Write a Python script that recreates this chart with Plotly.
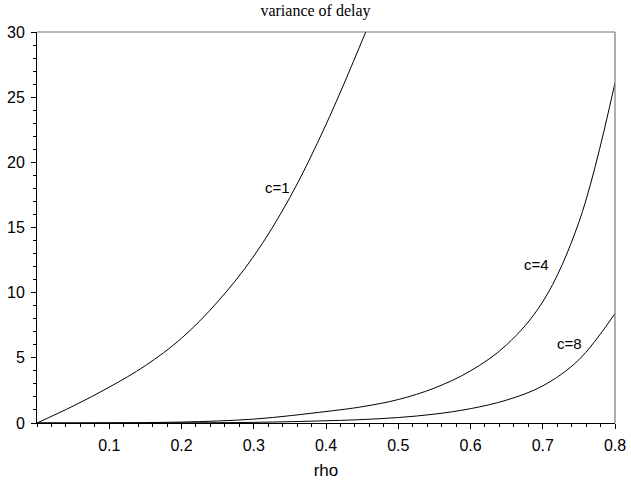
import plotly.graph_objects as go

# data
rho_c1 = [0.0, 0.05, 0.1, 0.15, 0.2, 0.25, 0.3, 0.35, 0.4, 0.455]
var_c1 = [0.0, 1.3, 2.75, 4.4, 6.5, 9.3, 12.8, 17.3, 22.9, 30.0]

rho_c4 = [0.0, 0.1, 0.2, 0.3, 0.4, 0.45, 0.5, 0.55, 0.6, 0.65, 0.7, 0.75, 0.8]
var_c4 = [0.0, 0.01, 0.07, 0.3, 0.88, 1.25, 1.8, 2.68, 4.0, 6.0, 9.3, 15.4, 26.1]

rho_c8 = [0.0, 0.2, 0.3, 0.4, 0.45, 0.5, 0.55, 0.6, 0.65, 0.7, 0.75, 0.8]
var_c8 = [0.0, 0.01, 0.05, 0.17, 0.265, 0.42, 0.68, 1.1, 1.76, 2.85, 4.85, 8.4]

labels = ["c=1", "c=4", "c=8"]
label_x = [0.333, 0.692, 0.737]
label_y = [18.1, 12.15, 6.1]

x_ticks = [0.1, 0.2, 0.3, 0.4, 0.5, 0.6, 0.7, 0.8]
y_ticks = [0, 5, 10, 15, 20, 25, 30]

fig = go.Figure()
for xs, ys in [(rho_c1, var_c1), (rho_c4, var_c4), (rho_c8, var_c8)]:
    fig.add_trace(go.Scatter(x=xs, y=ys, mode="lines",
                             line=dict(color="black", width=1, shape="spline", smoothing=1.0),
                             showlegend=False, hoverinfo="skip", cliponaxis=True))

for t, lx, ly in zip(labels, label_x, label_y):
    fig.add_annotation(x=lx, y=ly, text=t, showarrow=False, xanchor="center", yanchor="middle",
                       font=dict(family="Liberation Sans, Arial, sans-serif", size=15, color="black"))

# gray top and right frame
fig.add_shape(type="line", xref="paper", yref="paper", x0=0, x1=1, y0=1, y1=1,
              line=dict(color="#777777", width=1.2))
fig.add_shape(type="line", xref="paper", yref="paper", x0=1, x1=1, y0=0, y1=1,
              line=dict(color="#777777", width=1.2))

fig.update_layout(
    width=631, height=480,
    margin=dict(l=37, r=16, t=32, b=57, autoexpand=False),
    plot_bgcolor="white", paper_bgcolor="white",
    title=dict(text="variance of delay", x=0.5, xanchor="center", y=1 - 10 / 480, yanchor="middle",
               font=dict(family="Liberation Serif, Times New Roman, serif", size=16, color="black")),
    font=dict(family="Liberation Sans, Arial, sans-serif", size=16, color="black"),
)
fig.update_xaxes(range=[0, 0.8], tickvals=x_ticks, ticktext=[str(v) for v in x_ticks],
                 automargin=False,
                 showgrid=False, zeroline=False, showline=True, linecolor="black", linewidth=1,
                 ticks="outside", ticklen=5, tickcolor="black", tickwidth=1,
                 minor=dict(dtick=0.02, tick0=0, ticks="outside", ticklen=3, tickcolor="black", showgrid=False),
                 title=dict(text="rho", font=dict(size=17), standoff=12),
                 ticklabelstandoff=3,
                 tickfont=dict(size=16))
fig.update_yaxes(range=[0, 30], tickvals=y_ticks, showgrid=False, zeroline=False,
                 automargin=False,
                 showline=True, linecolor="black", linewidth=1,
                 ticks="outside", ticklen=5, tickcolor="black", tickwidth=1,
                 minor=dict(dtick=1, tick0=0, ticks="outside", ticklen=3, tickcolor="black", showgrid=False),
                 ticklabelstandoff=3,
                 tickfont=dict(size=16))

fig.write_html("out.html")
